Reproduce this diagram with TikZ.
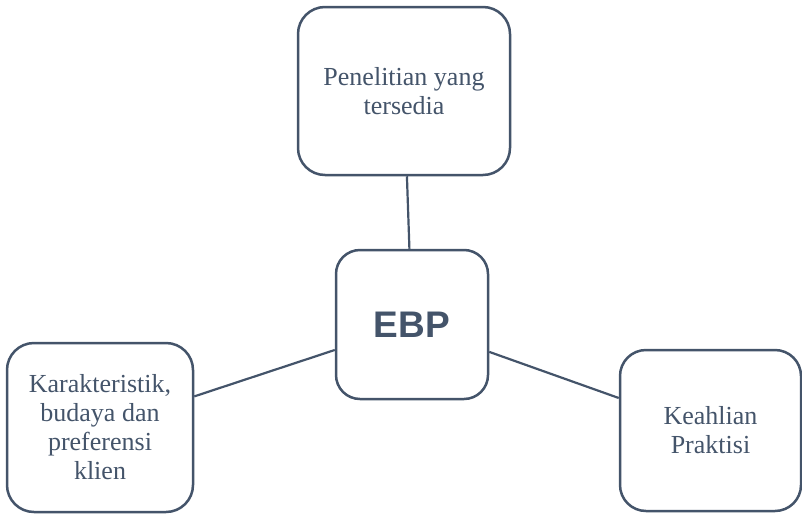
\documentclass[tikz,border=0pt]{standalone}
\usepackage{fontspec}
\setmainfont{Liberation Serif}
\newfontfamily\ebpfont{Liberation Sans}
\definecolor{slate}{HTML}{44546A}
\begin{document}
\begin{tikzpicture}[x=1pt,y=-1pt,
  boxstyle/.style={draw=slate, line width=2.5pt, rounded corners=#1, fill=white,
    inner sep=0pt, align=center, text=slate,
    font=\fontsize{26}{29}\selectfont},
  boxstyle/.default=26pt,
  linkstyle/.style={draw=slate, line width=2.2pt}]
\useasboundingbox (0,0) rectangle (802,514);
\node[boxstyle=27pt, minimum width=212pt, minimum height=168pt] (top) at (404,91) {Penelitian yang\\tersedia};
\node[boxstyle=24pt, minimum width=152pt, minimum height=149pt,
  font=\ebpfont\bfseries\fontsize{37}{40}\selectfont] (ebp) at (412,324.5) {EBP};
\node[boxstyle=27pt, minimum width=186pt, minimum height=169pt] (left) at (100,427.5) {Karakteristik,\\budaya dan\\preferensi\\klien};
\node[boxstyle=26pt, minimum width=181pt, minimum height=161pt] (right) at (710.5,430.5) {Keahlian\\Praktisi};
\draw[linkstyle] (top) -- (ebp);
\draw[linkstyle] (left) -- (ebp);
\draw[linkstyle] (ebp) -- (right);
\end{tikzpicture}
\end{document}
